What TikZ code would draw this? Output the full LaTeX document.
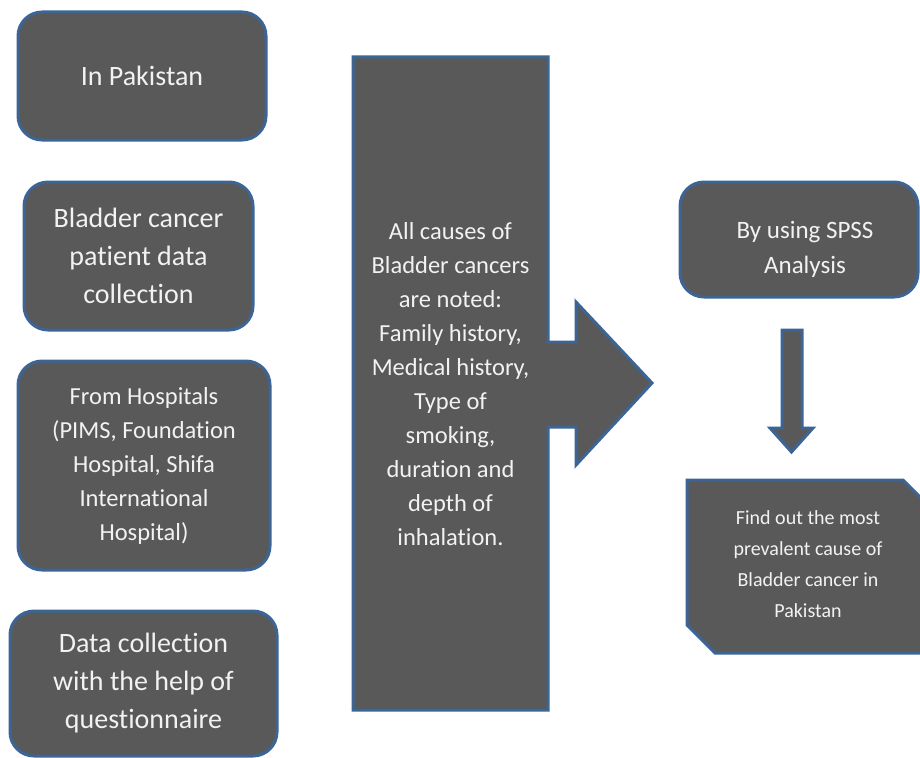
\documentclass[tikz,border=0pt]{standalone}
\usepackage{fontspec}
\setmainfont{Carlito}[Ligatures={NoCommon}]
\usepackage{xcolor}
\definecolor{boxgray}{HTML}{595959}
\definecolor{edgeblue}{HTML}{3C6494}

\begin{document}
\begin{tikzpicture}[
    x=1pt, y=-1pt,
    step box/.style={rectangle, rounded corners=24pt, draw=edgeblue, line width=3pt, fill=boxgray, align=center, text=white!95!black},
    block/.style={draw=edgeblue, line width=3pt, fill=boxgray, line join=miter},
    big/.style={font=\fontsize{28}{38}\selectfont},
    mid/.style={font=\fontsize{24.5}{34}\selectfont},
    small/.style={font=\fontsize{20}{31}\selectfont},
    label/.style={align=center, text=white!95!black}
]
\useasboundingbox (0,0) rectangle (920,757);

% Left column of steps
\node[step box, big, minimum width=248pt, minimum height=128pt] (pakistan) at (142,76) {In Pakistan};
\node[step box, big, minimum width=229pt, minimum height=148pt] (patients) at (138.5,256) {Bladder cancer\\patient data\\collection};
\node[step box, mid, minimum width=252pt, minimum height=209pt] (hospitals) at (144,465.5) {From Hospitals\\(PIMS, Foundation\\Hospital, Shifa\\International\\Hospital)};
\node[step box, big, minimum width=267pt, minimum height=145pt] (survey) at (143.5,683.5) {Data collection\\with the help of\\questionnaire};

% Central callout with arrow
\draw[block] (353,57) -- (548,57) -- (548,342) -- (576,342) -- (576,302) -- (652,383)
    -- (576,465) -- (576,427) -- (548,427) -- (548,710) -- (353,710) -- cycle;
\node[label, mid] (causes) at (450.5,384) {All causes of\\Bladder cancers\\are noted:\\Family history,\\Medical history,\\Type of\\smoking,\\duration and\\depth of\\inhalation.};

% Right column
\node[step box, minimum width=238pt, minimum height=115pt] (spss) at (799,239.5) {};
\node[label, font=\fontsize{25}{35}\selectfont] (spsstext) at (805,249) {By using SPSS\\Analysis};

\draw[block] (782,330) -- (802,330) -- (802,428) -- (813,428) -- (791.5,452) -- (770,428) -- (782,428) -- cycle;

\draw[block] (687,480) -- (903,480) -- (931,508) -- (931,653) -- (715,653) -- (687,625) -- cycle;
\node[label, small] (result) at (808,564) {Find out the most\\prevalent cause of\\Bladder cancer in\\Pakistan};

\end{tikzpicture}
\end{document}
